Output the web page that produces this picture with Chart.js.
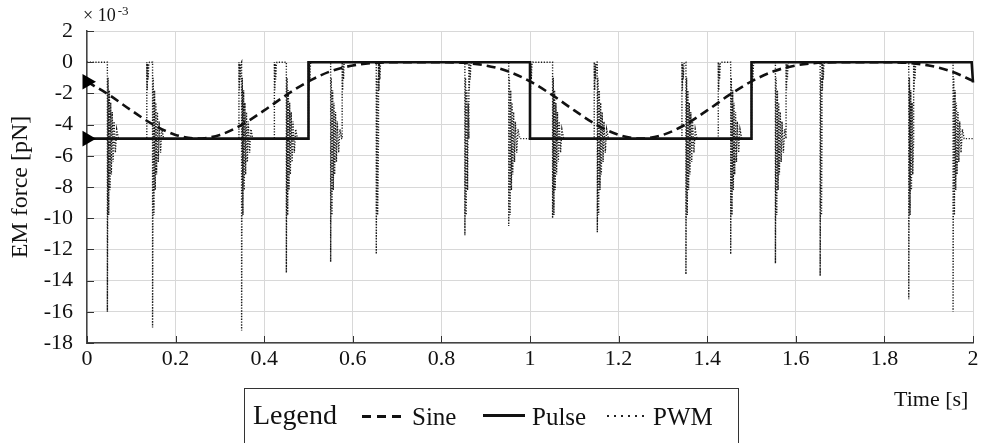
<!DOCTYPE html>
<html lang="en">
<head>
<meta charset="UTF-8">
<title>EM force</title>
<script src="https://cdn.jsdelivr.net/npm/chart.js"></script>
<style>
  body { margin: 0; overflow: hidden; background: #fff; font-family: "Liberation Serif", "Times New Roman", serif; color: #111; }
  #wrap { position: relative; width: 982px; height: 443px; overflow: hidden; }
  .lbl { position: absolute; white-space: nowrap; line-height: 1; }
  #legendBox { position: absolute; left: 244px; top: 388px; width: 495px; height: 80px; border: 1.5px solid #333; box-sizing: border-box; }
  .sample { position: absolute; }
</style>
</head>
<body>
<div id="wrap">
  <canvas id="forceChart"></canvas>
  <div class="lbl" style="left:83px; top:6px; font-size:18px;">&times; 10<span style="font-size:13px; position:relative; top:-6px; margin-left:2px;">-3</span></div>
  <div class="lbl" style="left:894px; top:388px; font-size:22px;">Time [s]</div>
  <div id="legendBox"></div>
  <div class="lbl" style="left:253px; top:401px; font-size:28px;">Legend</div>
  <div class="sample" style="left:362px; top:415px; width:40px; height:3px; background:repeating-linear-gradient(to right, #111 0 9px, transparent 9px 15px);"></div>
  <div class="lbl" style="left:412px; top:404px; font-size:25px;">Sine</div>
  <div class="sample" style="left:483px; top:414px; width:42px; height:3px; background:#111;"></div>
  <div class="lbl" style="left:532px; top:404px; font-size:25px;">Pulse</div>
  <div class="sample" style="left:607px; top:415px; width:40px; height:2px; background:repeating-linear-gradient(to right, #222 0 2px, transparent 2px 7px);"></div>
  <div class="lbl" style="left:653px; top:404px; font-size:25px;">PWM</div>
</div>

<script>
  // values in 1e-3 pN
  const sineT = [0, 0.05, 0.1, 0.15, 0.2, 0.25, 0.3, 0.35, 0.4, 0.45, 0.5, 0.55, 0.6, 0.65, 0.7, 0.75, 0.8, 0.85, 0.9, 0.95,
                 1, 1.05, 1.1, 1.15, 1.2, 1.25, 1.3, 1.35, 1.4, 1.45, 1.5, 1.55, 1.6, 1.65, 1.7, 1.75, 1.8, 1.85, 1.9, 1.95, 2];
  const sineF = [-1.25, -2.1, -3.09, -4.01, -4.66, -4.9, -4.66, -4.01, -3.09, -2.1, -1.23, -0.58, -0.21, -0.04, 0, 0, 0, -0.04, -0.21, -0.58,
                 -1.23, -2.1, -3.09, -4.01, -4.66, -4.9, -4.66, -4.01, -3.09, -2.1, -1.23, -0.58, -0.21, -0.04, 0, 0, 0, -0.04, -0.21, -0.58, -1.2];

  const pulseT = [0, 0.5, 0.5, 1.0, 1.0, 1.5, 1.5, 1.997, 2.0];
  const pulseF = [-4.9, -4.9, 0, 0, -4.9, -4.9, 0, 0, -1.3];

  // PWM: switching instants, spike minima, and the ringing seen after each edge
  const pwmOn = -4.9;
  const pwmDropT = [0.046, 0.148, 0.349, 0.45, 0.55, 0.653, 0.853, 0.952, 1.051, 1.152, 1.352, 1.453, 1.554, 1.655, 1.855, 1.955];
  const pwmDropMin = [-16.0, -17.0, -17.2, -13.5, -12.8, -12.3, -11.1, -10.5, -10.0, -10.9, -13.6, -12.3, -12.9, -13.7, -15.2, -16.0];
  const pwmRiseT = [0.135, 0.343, 0.423, 0.5, 0.576, 0.658, 0.862, 1.0, 1.145, 1.343, 1.425, 1.5, 1.578, 1.659, 1.866];
  const ringDropDt = [0.0015, 0.003, 0.0045, 0.006, 0.0075, 0.009, 0.011, 0.013, 0.015, 0.018, 0.021, 0.025];
  const ringDropF = [-1.0, -9.8, -1.8, -8.2, -2.6, -7.2, -3.2, -6.4, -3.8, -5.8, -4.3, -4.9];
  const ringRiseDt = [0.001, 0.002, 0.003, 0.0045, 0.006];
  const ringRiseF = [-1.8, -0.1, -1.1, -0.1, 0];

  const events = pwmDropT.map((t, i) => ({ t, min: pwmDropMin[i], drop: true }))
    .concat(pwmRiseT.map(t => ({ t, drop: false })))
    .sort((a, b) => a.t - b.t);

  const pwmPts = [{ x: 0, y: 0 }];
  let level = 0;
  events.forEach((e, i) => {
    const next = i + 1 < events.length ? events[i + 1].t : 2;
    if (e.drop) {
      pwmPts.push({ x: e.t, y: 0 }, { x: e.t, y: e.min });
      ringDropDt.forEach((d, k) => { if (e.t + d < next - 0.0008) pwmPts.push({ x: e.t + d, y: ringDropF[k] }); });
      level = pwmOn;
    } else {
      pwmPts.push({ x: e.t, y: pwmOn }, { x: e.t, y: 0 });
      ringRiseDt.forEach((d, k) => { if (e.t + d < next - 0.0008) pwmPts.push({ x: e.t + d, y: ringRiseF[k] }); });
      level = 0;
    }
  });
  pwmPts.push({ x: 2, y: level });

  const xy = (xs, ys) => xs.map((x, i) => ({ x, y: ys[i] }));
  const serif = '"Liberation Serif", "Times New Roman", serif';

  const innerTicks = {
    id: 'innerTicks',
    afterDraw(chart) {
      const { ctx, chartArea: a, scales: { x, y } } = chart;
      ctx.save();
      ctx.strokeStyle = '#333';
      ctx.lineWidth = 1;
      ctx.beginPath();
      x.ticks.forEach(t => {
        const px = Math.round(x.getPixelForValue(t.value)) + 0.5;
        ctx.moveTo(px, a.bottom); ctx.lineTo(px, a.bottom - 7);
      });
      y.ticks.forEach(t => {
        const py = Math.round(y.getPixelForValue(t.value)) + 0.5;
        ctx.moveTo(a.left, py); ctx.lineTo(a.left + 7, py);
      });
      ctx.stroke();
      ctx.restore();
    }
  };

  const firstOnly = r => ctx => ctx.dataIndex === 0 ? r : 0;

  new Chart(document.getElementById('forceChart'), {
    type: 'line',
    data: {
      datasets: [
        {
          label: 'Sine', data: xy(sineT, sineF), order: 2,
          borderColor: '#111', borderWidth: 2.6, borderDash: [9, 5],
          cubicInterpolationMode: 'monotone',
          pointStyle: 'triangle', rotation: 90, pointRadius: firstOnly(9),
          pointBackgroundColor: '#000', pointBorderWidth: 0, clip: false
        },
        {
          label: 'Pulse', data: xy(pulseT, pulseF), order: 1,
          borderColor: '#111', borderWidth: 2.6,
          pointStyle: 'triangle', rotation: 90, pointRadius: firstOnly(9),
          pointBackgroundColor: '#000', pointBorderWidth: 0, clip: false
        },
        {
          label: 'PWM', data: pwmPts, order: 3,
          borderColor: '#1a1a1a', borderWidth: 1.4, borderDash: [1.2, 1.6],
          pointRadius: 0
        }
      ]
    },
    options: {
      responsive: true,
      maintainAspectRatio: false,
      animation: false,
      events: [],
      layout: { padding: { top: 31, right: 5, left: 0, bottom: 0 } },
      plugins: { legend: { display: false }, tooltip: { enabled: false } },
      scales: {
        x: {
          type: 'linear', min: 0, max: 2,
          afterFit: s => { s.height = 100; },
          grid: { color: '#d8d8d8', drawTicks: false },
          border: { color: '#444', width: 1.5 },
          ticks: {
            stepSize: 0.2, padding: 3, color: '#111', maxRotation: 0,
            font: { family: serif, size: 22 },
            callback: v => String(+v.toFixed(1))
          }
        },
        y: {
          min: -18, max: 2,
          afterFit: s => { s.width = 87; },
          grid: { color: '#d8d8d8', drawTicks: false },
          border: { color: '#444', width: 1.5 },
          ticks: {
            stepSize: 2, padding: 14, color: '#111',
            font: { family: serif, size: 22 },
            callback: v => String(v)
          },
          title: {
            display: true, text: 'EM force [pN]', color: '#111',
            font: { family: serif, size: 24 }, padding: { top: 6, bottom: 0 }
          }
        }
      }
    },
    plugins: [innerTicks]
  });
</script>
</body>
</html>
